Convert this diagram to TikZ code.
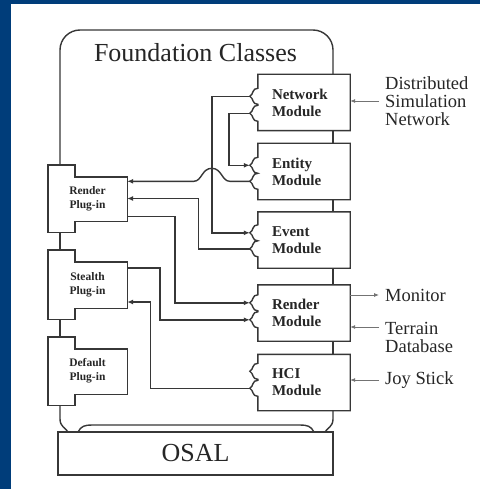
\documentclass[tikz,border=0pt]{standalone}
\usepackage{fontspec}
\setmainfont{Liberation Serif}
\usetikzlibrary{calc,arrows.meta,positioning}
\definecolor{slideblue}{RGB}{0,61,122}
\definecolor{inkgray}{RGB}{55,55,55}

\begin{document}
\begin{tikzpicture}[x=1pt,y=-1pt]

\def\notchw{8};
\def\tabw{27};
\tikzset{
    frame/.style={draw=inkgray, line width=1.4pt},
    link/.style={draw=inkgray, line width=1.4pt},
    linkarrow/.style={link, -{Latex[length=6pt,width=5pt]}},
    io/.style={draw=inkgray!70, line width=0.8pt, -{Latex[length=5pt,width=4pt]}},
    module/.style={
        rectangle,
        inner sep=0pt,
        minimum width=92pt,
        minimum height=56pt,
        text width=64pt,
        align=left,
        text=black!85,
        font=\fontsize{15}{17}\selectfont\bfseries
    },
    plugin/.style={
        rectangle,
        inner sep=0pt,
        minimum width=79pt,
        align=center,
        text=black!85,
        font=\fontsize{11.5}{14}\selectfont\bfseries
    },
    extlabel/.style={anchor=west, align=left, inner sep=0pt, text=black!85,
        font=\fontsize{18.5}{18}\selectfont},
    notch/.style={to path={
        .. controls ($(\tikztostart)+(-6,0)$)
        and ($(\tikztostart)!0.5!(\tikztotarget)+(-4,-2)$)
        .. ($(\tikztostart)!0.5!(\tikztotarget)+(-\notchw,0)$)
        .. controls ($(\tikztostart)!0.5!(\tikztotarget)+(-4,2)$)
        and ($(\tikztotarget)+(-6,0)$) .. (\tikztotarget)}}
}

\def\modframe#1#2#3{
    \coordinate (#1-a) at ($(#1.north west)+(0,#2)$);
    \coordinate (#1-b) at ($(#1.north west)+(0,#3)$);
    \coordinate (#1-ta) at ($(#1-a)+(-\notchw,0)$);
    \coordinate (#1-tb) at ($(#1-b)+(-\notchw,0)$);
    \draw[frame] (#1.north west) -- ($(#1-a)+(0,-8)$) to[notch] ($(#1-a)+(0,8)$)
        -- ($(#1-b)+(0,-8)$) to[notch] ($(#1-b)+(0,8)$) -- (#1.south west)
        -- (#1.south east) -- (#1.north east) -- cycle;
}
\def\plugframe#1{
    \draw[frame] (#1.north west) -- ++(\tabw,0) |- ($(#1.north east)+(0,12)$)
        -- ($(#1.south east)+(0,-11)$) -| ($(#1.south west)+(\tabw,0)$)
        -- (#1.south west) -- cycle;
}

\fill[slideblue] (0,0) rectangle (480,489);
\fill[white] (11,4) rectangle (480,489);
\useasboundingbox (0,0) rectangle (480,489);

\coordinate (fcl) at (60,0);
\coordinate (fcr) at (333,0);

\node[text=black!85, font=\fontsize{26}{28}\selectfont] (fctitle) at (195.5,53) {Foundation Classes};

\foreach \name/\y/\txt in {net/102.5/Network, ent/171.5/Entity, evt/240/Event, rnd/313/Render, hci/382.5/HCI} {
    \node[module] (\name) at (304,\y) {\txt\\Module};
}
\foreach \name/\a/\b in {net/22/39, ent/22/38, evt/21/37, rnd/18/35, hci/17/34} {
    \modframe{\name}{\a}{\b}
}

\foreach \name/\top/\bot/\txt in {rplug/165/232/Render, splug/250/319/Stealth, dplug/337/405/Default} {
    \node[plugin, minimum height=\bot-\top] (\name) at (87.5,{(\top+\bot)/2}) {\txt\\Plug-in};
    \plugframe{\name}
}

\draw[frame, rounded corners=20pt] (rplug.north -| fcl) -- (60,30) -- (333,30) -- (net.north -| fcr);
\foreach \a/\b in {net/ent, ent/evt, evt/rnd, rnd/hci} {
    \draw[frame] (\a.south -| fcr) -- (\b.north -| fcr);
}
\foreach \a/\b in {rplug/splug, splug/dplug} {
    \draw[frame] (\a.south -| fcl) -- (\b.north -| fcl);
}
\draw[frame] (dplug.south -| fcl) -- (60,419) .. controls (60,427) and (66,428) .. (68,432);
\draw[frame] (hci.south -| fcr) -- (333,419) .. controls (333,427) and (327,428) .. (325,432);
\draw[frame] (78,432) .. controls (81,426) and (85,425) .. (92,425) -- (300,425)
    .. controls (307,425) and (311,426) .. (314,432);

\node[frame, minimum width=275pt, minimum height=43pt, text=black!85,
    font=\fontsize{26}{28}\selectfont] (osal) at (195.5,453.5) {OSAL};

\draw[linkarrow] (net-ta) -| ($(evt-ta)+(-38,0)$) -- (evt-ta);
\draw[linkarrow] (net-tb) -| ($(ent-ta)+(-21,0)$) -- (ent-ta);
\draw[linkarrow] (ent-tb) -- ++(-20,0) .. controls +(-8,0) and +(10,0) .. ++(-18,-13)
    .. controls +(-10,0) and +(8,0) .. ++(-18,13) -- (rplug.east |- ent-tb);
\draw[linkarrow] (evt-tb) -| ($(rplug.east)+(71,0)$) -- (rplug.east);
\draw[linkarrow] ($(rplug.east)+(0,18)$) -| ($(rnd-ta)+(-75,0)$) -- (rnd-ta);
\draw[linkarrow] ($(splug.east)+(0,-16.5)$) -| ($(rnd-tb)+(-90,0)$) -- (rnd-tb);
\draw[linkarrow] (hci-tb) -| ($(splug.east)+(23,17.5)$) -- ($(splug.east)+(0,17.5)$);

\node[extlabel] (dsn) at (385,101) {Distributed\\Simulation\\Network};
\node[extlabel] (mon) at (385,295) {Monitor};
\node[extlabel] (ter) at (385,337) {Terrain\\Database};
\node[extlabel] (joy) at (385,380) {Joy Stick};
\coordinate (ter-in) at ([yshift=10pt]ter.west);

\draw[io] ([xshift=-6pt]dsn.west) -- (dsn.west -| net.east);
\draw[io] (rnd.east |- mon.west) -- ([xshift=-6pt]mon.west);
\draw[io] ([xshift=-6pt]ter-in) -- (ter-in -| rnd.east);
\draw[io] ([xshift=-6pt]joy.west) -- (joy.west -| hci.east);
\end{tikzpicture}
\end{document}
